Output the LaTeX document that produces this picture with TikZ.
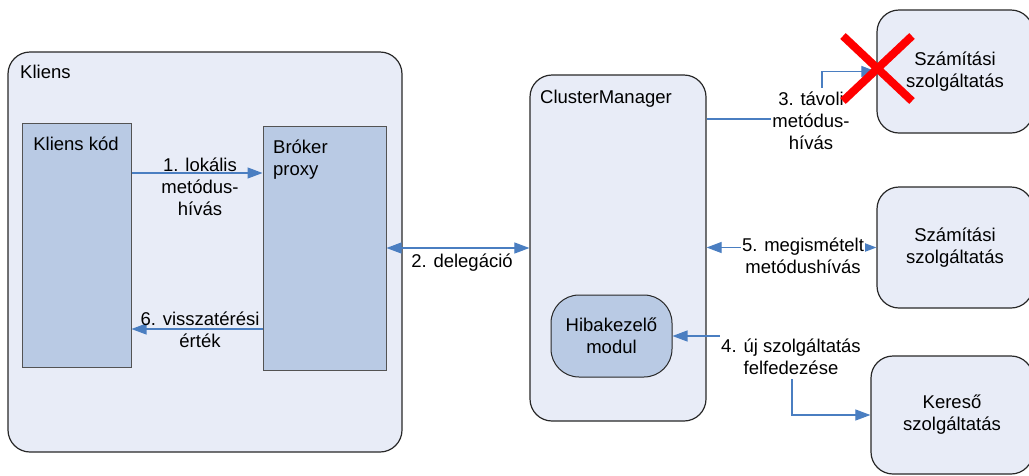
\documentclass[tikz,border=0pt]{standalone}
\usepackage{fontspec}
\setmainfont{Liberation Sans}
\usetikzlibrary{arrows.meta}
\definecolor{boxbg}{RGB}{232,236,247}
\definecolor{partbg}{RGB}{185,202,228}
\definecolor{arrowblue}{RGB}{74,126,193}
\definecolor{edge}{RGB}{40,40,40}
\begin{document}
\begin{tikzpicture}[x=1pt,y=-1pt,font=\fontsize{18.5}{22}\selectfont,
    outer/.style={draw=edge,fill=boxbg,line width=1.2pt,rounded corners=22pt,inner sep=0pt},
    part/.style={draw=edge!80,fill=partbg,line width=1pt,inner sep=0pt},
    txt/.style={inner sep=1pt,align=center},
    lbl/.style={inner sep=1pt,align=center,fill=white},
    arr/.style={arrowblue,line width=1.1pt,-{Triangle[length=15pt,width=11pt]}},
    darr/.style={arrowblue,line width=1.1pt,{Triangle[length=15pt,width=11pt]}-{Triangle[length=15pt,width=11pt]}}]
  \clip (0,0) rectangle (1029,475);
  % kliens oldal
  \node[outer,minimum width=394,minimum height=400] (kliens) at (205,252) {};
  \node[txt,anchor=base west] (kliensTxt) at (19,78) {Kliens};
  \node[part,minimum width=109,minimum height=244] (kod) at (76.5,245) {};
  \node[txt,anchor=base] (kodTxt) at (76,150) {Kliens kód};
  \node[part,minimum width=123,minimum height=244] (proxy) at (324.5,248) {};
  \node[txt,align=left,anchor=west] (proxyTxt) at (272,159.5) {Bróker\\proxy};
  % cluster manager
  \node[outer,minimum width=176,minimum height=346] (cm) at (618,248) {};
  \node[txt,anchor=base west] (cmTxt) at (539,103) {ClusterManager};
  \node[part,draw=edge,rounded corners=28pt,minimum width=121,minimum height=82,align=center] (hiba) at (611.5,336) {Hibakezelő\\modul};
  % szolgaltatasok
  \node[outer,minimum width=156,minimum height=123,align=center] (szam1) at (955,71.5) {Számítási\\szolgáltatás};
  \node[outer,minimum width=156,minimum height=121,align=center] (szam2) at (955,247.5) {Számítási\\szolgáltatás};
  \node[outer,minimum width=162,minimum height=118,align=center] (kereso) at (952,415) {Kereső\\szolgáltatás};
  % nyilak
  \draw[arr] (kod.east |- 0,173) -- (proxy.west |- 0,173);
  \draw[arr] (proxy.west |- 0,329) -- (kod.east |- 0,329);
  \draw[darr] (proxy.east) -- (cm.west);
  \draw[arr] (cm.east |- 0,119) -| (822,71.5) -- (szam1.west);
  \draw[darr] (cm.east |- szam2.west) -- (szam2.west);
  \draw[darr] (kereso.west) -| (792,336) -- (hiba.east);
  % feliratok
  \node[txt] (l1) at (200,186.5) {1. lokális\\metódus-\\hívás};
  \node[txt] (l6) at (200,329.5) {6. visszatérési\\érték};
  \node[txt,anchor=base] (l2) at (462,267) {2. delegáció};
  \node[lbl,inner ysep=4pt] (l3) at (811,120.5) {3. távoli\\metódus-\\hívás};
  \node[lbl] (l5) at (803,255.5) {5. megismételt\\metódushívás};
  \node[lbl,inner ysep=5pt] (l4) at (791,356.5) {4. új szolgáltatás\\felfedezése};
  % kiesett szolgaltatas
  \draw[red,line width=8pt] (843,36) -- (912,101) (843,101) -- (912,36);
\end{tikzpicture}
\end{document}
